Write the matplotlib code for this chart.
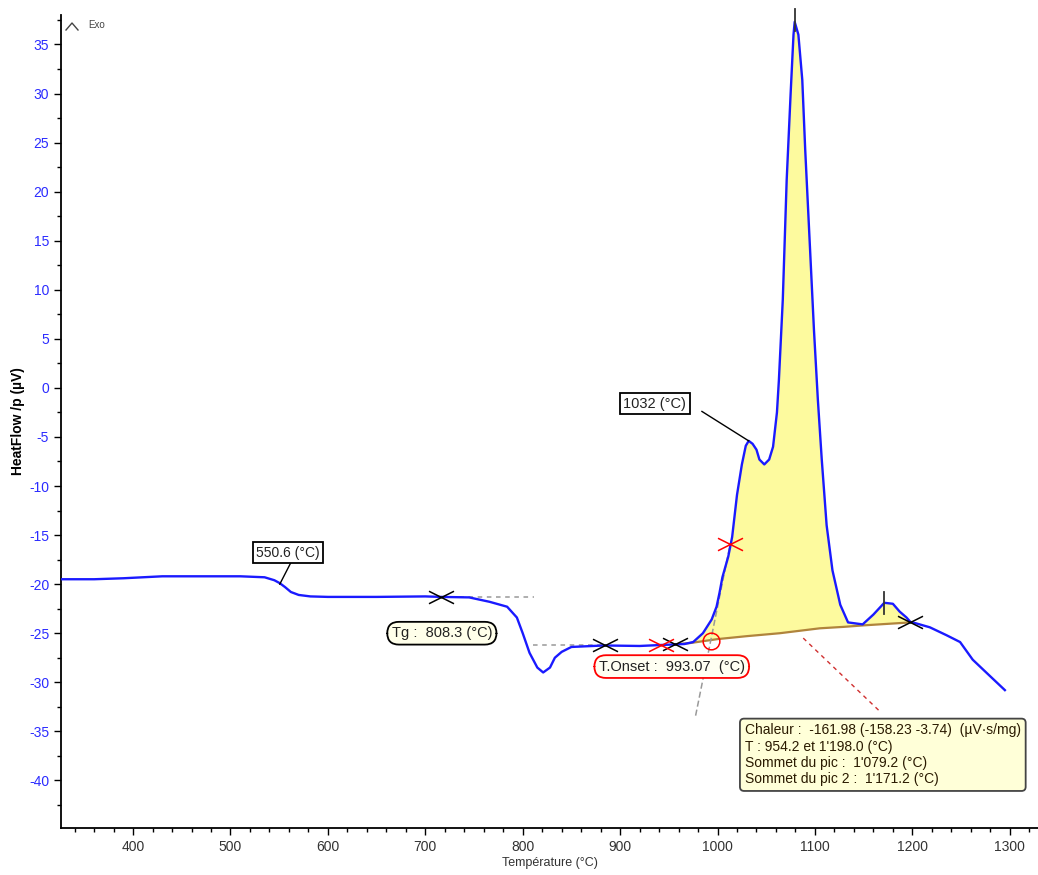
import matplotlib
matplotlib.use("Agg")
import matplotlib.pyplot as plt
from matplotlib.path import Path
from matplotlib.lines import Line2D
from matplotlib.ticker import MultipleLocator

plt.rcParams['font.family'] = ['Liberation Sans', 'DejaVu Sans']
plt.rcParams['axes.unicode_minus'] = False

# DTA trace, heat flow vs temperature
temp = [326, 360, 390, 410, 430, 470, 510, 535, 545, 550.6, 556, 562, 570, 582,
        600, 650, 700, 716, 745, 766, 784, 794, 800, 807, 815, 821, 828, 833,
        840, 850, 872, 884, 920, 942, 954.2, 966, 975, 985, 994, 999, 1002,
        1005, 1011, 1015, 1020, 1025, 1029, 1032, 1036, 1040, 1043, 1048, 1053,
        1057, 1061, 1063, 1067, 1071, 1075, 1078, 1079.2, 1083, 1087, 1090,
        1095, 1099, 1103, 1107, 1112, 1118, 1126, 1134, 1149, 1160, 1171.2,
        1180, 1187, 1194, 1198.0, 1204, 1218, 1235, 1249, 1262, 1279, 1295]
heatflow = [-19.5, -19.5, -19.4, -19.3, -19.2, -19.2, -19.2, -19.3, -19.6, -19.9,
            -20.3, -20.8, -21.1, -21.25, -21.3, -21.3, -21.25, -21.3, -21.35,
            -21.8, -22.3, -23.4, -25.0, -27.0, -28.5, -29.0, -28.5, -27.5, -26.9,
            -26.4, -26.3, -26.25, -26.3, -26.2, -26.15, -26.1, -25.9, -25.0,
            -23.6, -22.3, -20.9, -19.3, -17.2, -15.2, -10.9, -7.8, -5.9, -5.4,
            -5.7, -6.3, -7.3, -7.8, -7.3, -6.0, -2.5, 0.8, 9.0, 21.2, 29.9, 36.0,
            37.3, 36.0, 31.4, 24.3, 14.1, 5.9, -1.2, -7.3, -14.0, -18.6, -22.1,
            -23.9, -24.1, -23.1, -21.9, -22.0, -22.8, -23.4, -23.85, -24.0,
            -24.4, -25.2, -25.9, -27.7, -29.3, -30.8]

# integration baseline under the crystallisation peaks
base_temp = [954.2, 972, 1000, 1030, 1064, 1105, 1130, 1150, 1198.0]
base_flow = [-26.15, -26.0, -25.6, -25.3, -25.0, -24.5, -24.35, -24.2, -23.9]

# evaluated quantities
t_change = 550.6
t_glass = 808.3
t_onset = 993.07
t_peak_first = 1032
t_peak_main = 1079.2
t_peak_second = 1171.2
t_start, t_end = 954.2, 1198.0
heat = -161.98
heat_parts = (-158.23, -3.74)

# tangent construction points
tg_upper = ([716, 812], [-21.3, -21.3])
tg_lower = ([811, 884], [-26.2, -26.2])
onset_tangent = ([977.5, 1013], [-33.4, -15.9])
black_marks = ([716, 884, 956, 1198], [-21.3, -26.25, -26.1, -23.85])
red_marks = ([942, 1013], [-26.2, -15.9])

fig = plt.figure(figsize=(10.38, 8.75), dpi=100)
ax = fig.add_axes([61 / 1038, 47 / 875, 977 / 1038, 813 / 875])
ax.set_xlim(326, 1329)
ax.set_ylim(-44.85, 38.0)

# yellow area between trace and baseline
lo = temp.index(t_start)
hi = temp.index(t_end)
poly_x = temp[lo:hi + 1] + base_temp[::-1]
poly_y = heatflow[lo:hi + 1] + base_flow[::-1]
ax.fill(poly_x, poly_y, color='#fdfa9e', lw=0, zorder=1)
ax.plot(base_temp, base_flow, color='#b0843c', lw=1.6, zorder=2)

# tangent lines
ax.plot(*tg_upper, color='#999999', lw=1.1, ls=(0, (3, 3)), zorder=2)
ax.plot(*tg_lower, color='#999999', lw=1.1, ls=(0, (3, 3)), zorder=2)
ax.plot(*onset_tangent, color='#999999', lw=1.1, ls=(0, (4, 2)), zorder=2)

ax.plot(temp, heatflow, color='#1a1aff', lw=1.7, zorder=3)

# flattened cross markers
xmark = Path([(-1, -0.5), (1, 0.5), (-1, 0.5), (1, -0.5)],
             [Path.MOVETO, Path.LINETO, Path.MOVETO, Path.LINETO])
ax.plot(*black_marks, ls='none', marker=xmark, ms=18, mec='black', mew=1.1, zorder=4)
ax.plot(*red_marks, ls='none', marker=xmark, ms=18, mec='red', mew=1.1, zorder=4)
ax.plot([t_onset], [-25.75], ls='none', marker='o', ms=12, mfc='none', mec='red', mew=1.1, zorder=4)

# peak top ticks
ax.plot([t_peak_main, t_peak_main], [36.4, 38.6], color='#333333', lw=1.3, clip_on=False, zorder=4)
ax.plot([t_peak_second, t_peak_second], [-20.8, -23.0], color='#333333', lw=1.3, zorder=4)

# labels on the curve
square = dict(boxstyle='square,pad=0.25', fc='white', ec='black', lw=1.3)
ax.plot([984, t_peak_first], [-2.4, -5.4], color='black', lw=1.0, zorder=4)
ax.text(935.5, -1.6, f'{t_peak_first} (°C)', ha='center', va='center', fontsize=10.5,
        color='#222222', bbox=square, zorder=5)
ax.plot([562, t_change], [-17.8, -20.0], color='black', lw=1.0, zorder=4)
ax.text(559, -16.8, f'{t_change} (°C)', ha='center', va='center', fontsize=10,
        color='#222222', bbox=square, zorder=5)

ax.text(717, -25.0, f'Tg :  {t_glass} (°C)', ha='center', va='center', fontsize=10.5,
        color='#222222', zorder=5,
        bbox=dict(boxstyle='round,pad=0.3,rounding_size=0.8', fc='#ffffea', ec='black', lw=1.3))
ax.text(953, -28.4, f'T.Onset :  {t_onset}  (°C)', ha='center', va='center', fontsize=10.5,
        color='#222222', zorder=5,
        bbox=dict(boxstyle='round,pad=0.3,rounding_size=0.8', fc='#fffff2', ec='red', lw=1.3))

# heat of crystallisation summary
ax.plot([1088, 1167], [-25.5, -33.0], color='#d03030', lw=1.0, ls=(0, (3, 3)), zorder=4)
summary = (f'Chaleur :  {heat} ({heat_parts[0]} {heat_parts[1]})  (µV·s/mg)\n'
           f'T : {t_start} et {t_end:,.1f} (°C)\n'
           f'Sommet du pic :  {t_peak_main:,.1f} (°C)\n'
           f'Sommet du pic 2 :  {t_peak_second:,.1f} (°C)').replace(',', "'")
ax.text(1028, -34.2, summary, ha='left', va='top', fontsize=10, color='#2a1a00',
        linespacing=1.2, zorder=5,
        bbox=dict(boxstyle='round,pad=0.35,rounding_size=0.3', fc='#ffffd8', ec='#444444', lw=1.3))

# axes styling
for side in ('top', 'right'):
    ax.spines[side].set_visible(False)
for side in ('left', 'bottom'):
    ax.spines[side].set_linewidth(1.3)
ax.xaxis.set_major_locator(MultipleLocator(100))
ax.xaxis.set_minor_locator(MultipleLocator(20))
ax.yaxis.set_major_locator(MultipleLocator(5))
ax.yaxis.set_minor_locator(MultipleLocator(2.5))
ax.tick_params(axis='both', which='major', length=5, width=1.0, labelsize=10)
ax.tick_params(axis='both', which='minor', length=3, width=1.0)
ax.tick_params(axis='y', labelcolor='#2b2bff')
ax.tick_params(axis='x', labelcolor='#333333')
ax.set_xlabel('Température (°C)', fontsize=9, color='#333333', labelpad=2)
ax.set_ylabel('HeatFlow /p (µV)', fontsize=10, fontweight='bold', labelpad=3)

# exo direction marker
fig.add_artist(Line2D([66 / 1038, 72 / 1038, 78 / 1038],
                      [1 - 30 / 875, 1 - 23 / 875, 1 - 30 / 875], color='#444444', lw=1.0))
fig.text(88 / 1038, 1 - 25 / 875, 'Exo', fontsize=7, color='#444444', va='center')

fig.savefig('out.png', dpi=100)
